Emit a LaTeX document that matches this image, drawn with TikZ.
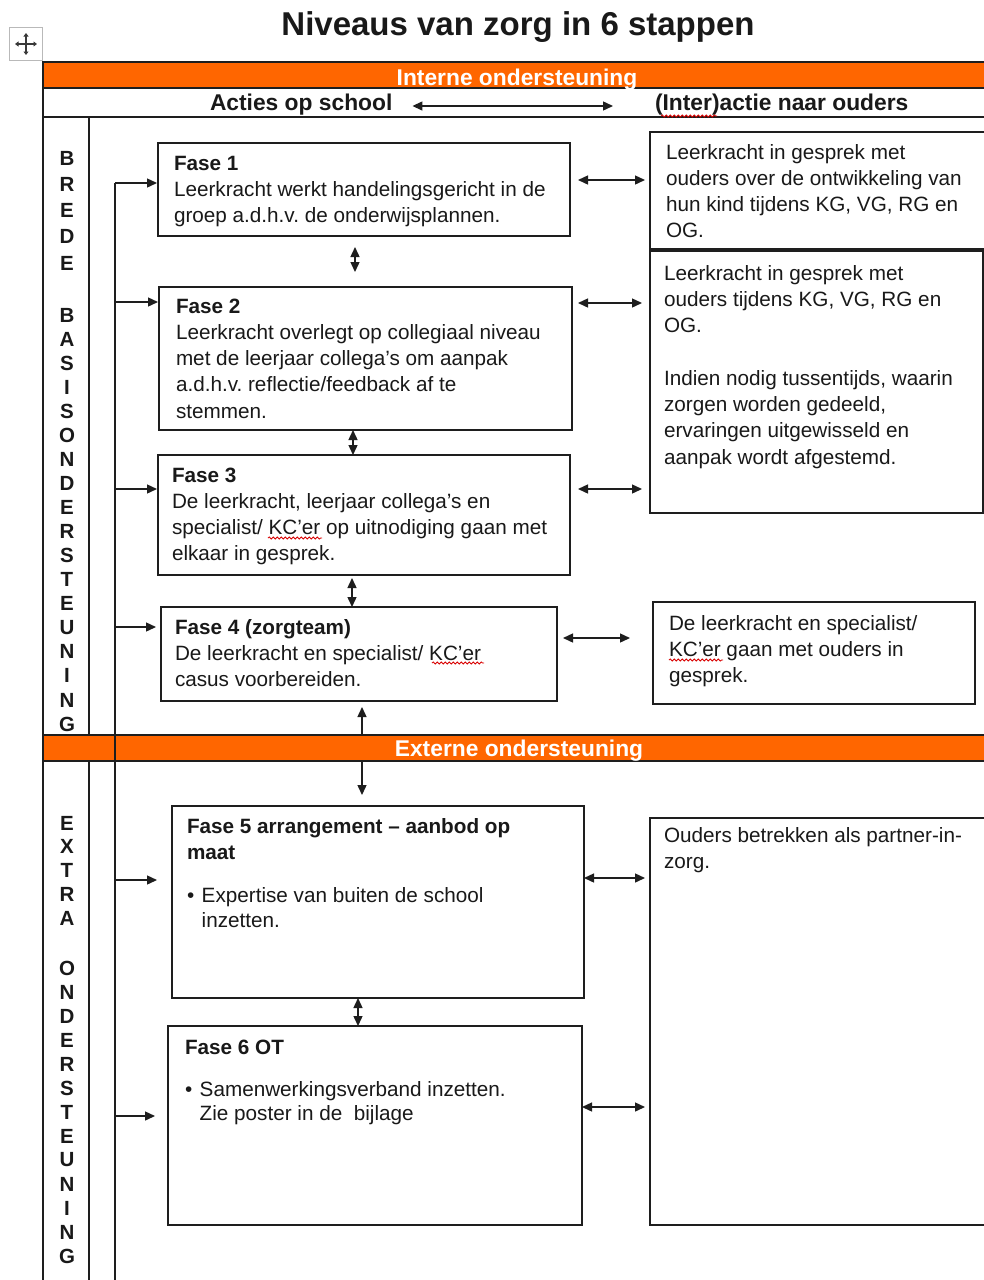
\documentclass[tikz,border=0pt]{standalone}
\usepackage{fontspec}
\setmainfont{Liberation Sans}
\usetikzlibrary{arrows.meta,calc,decorations.pathmorphing}
\definecolor{orng}{RGB}{255,102,0}
\definecolor{ln}{RGB}{30,30,30}
\definecolor{tx}{RGB}{25,25,25}
\frenchspacing
\tikzset{
  x=1pt,y=-1pt,
  fbox/.style={draw=ln,line width=1.4pt,inner sep=0pt,outer sep=0pt,anchor=north west},
  txt/.style={inner sep=0pt,outer sep=0pt,align=left,anchor=north west,text=tx,
    font=\fontsize{20.7}{26.3}\selectfont},
  hdr/.style={inner sep=0pt,outer sep=0pt,anchor=base west,text=tx,
    font=\fontsize{22.8}{26}\selectfont\bfseries},
  bandbox/.style={draw=ln,line width=1.6pt,fill=orng,inner sep=0pt,outer sep=0pt,anchor=north west},
  bandtxt/.style={inner sep=0pt,outer sep=0pt,anchor=base,text=white,
    font=\fontsize{22.8}{26}\selectfont\bfseries},
  lt/.style={inner sep=0pt,outer sep=0pt,anchor=center,text=tx,
    font=\fontsize{20.5}{24}\selectfont\bfseries},
  tline/.style={draw=ln,line width=1.8pt},
  bus/.style={draw=ln,line width=1.3pt},
  arr/.style={draw=ln,line width=1.4pt,-{Triangle[length=10pt,width=9pt]}},
  darr/.style={draw=ln,line width=1.4pt,{Triangle[length=10pt,width=9pt]}-{Triangle[length=10pt,width=9pt]}},
  sq/.style={draw=red!85!black,line width=0.8pt,decorate,
    decoration={snake,amplitude=1.1pt,segment length=4pt}},
}
\newcommand\bul{\makebox[14.7pt][l]{•}}
\begin{document}
\begin{tikzpicture}
\clip (0,0) rectangle (984,1280);
\fill[white] (0,0) rectangle (984,1280);

% title
\node[inner sep=0pt,anchor=base,text=tx,font=\fontsize{33}{36}\selectfont\bfseries] (title) at (518,35) {Niveaus van zorg in 6 stappen};

% move icon
\node[draw=gray!55,fill=white,line width=1.5pt,minimum size=33pt,inner sep=0pt] (mv) at (26,44) {};
\draw[gray!45!black,line width=1.2pt,{Triangle[length=3.5pt,width=5pt]}-{Triangle[length=3.5pt,width=5pt]}]
  ($(mv.center)+(-11,0)$) -- ($(mv.center)+(11,0)$);
\draw[gray!45!black,line width=1.2pt,{Triangle[length=3.5pt,width=5pt]}-{Triangle[length=3.5pt,width=5pt]}]
  ($(mv.center)+(0,-11)$) -- ($(mv.center)+(0,11)$);

% bands
\node[bandbox,minimum width=960pt,minimum height=26pt] (band1) at (43,62) {};
\node[bandtxt] (band1t) at (517,85) {Interne ondersteuning};
\node[bandbox,minimum width=960pt,minimum height=26pt] (band2) at (43,735) {};
\node[bandtxt] (band2t) at (519,756) {Externe ondersteuning};

% table lines
\draw[tline] (43,62) -- (43,1290);
\draw[tline] (43,117) -- (1000,117);
\draw[tline] (89,117) -- (89,735);
\draw[tline] (89,761) -- (89,1290);

% header row
\node[hdr] (ha) at (210,110) {Acties op school};
\node[hdr] (hb) at (655,110) {(Inter)actie naar ouders};
\coordinate (yh) at (0,106);
\draw[darr,shorten <=20pt,shorten >=42pt] (ha.east |- yh) -- (hb.west |- yh);
\draw[sq] (661,116) -- (717,116);

% left column letters
\foreach \ch [count=\i from 0] in {B,R,E,D,E}
  \node[lt] (lbr\i) at (67,{158+26.25*\i}) {\ch};
\foreach \ch [count=\i from 0] in {B,A,S,I,S,O,N,D,E,R,S,T,E,U,N,I,N,G}
  \node[lt] (lba\i) at (67,{315+24.06*\i}) {\ch};
\foreach \ch [count=\i from 0] in {E,X,T,R,A}
  \node[lt] (lex\i) at (67,{823+23.75*\i}) {\ch};
\foreach \ch [count=\i from 0] in {O,N,D,E,R,S,T,E,U,N,I,N,G}
  \node[lt] (lon\i) at (67,{968+24*\i}) {\ch};

% phase boxes
\node[fbox,minimum width=412pt,minimum height=93pt] (f1) at (158,143) {};
\node[fbox,minimum width=413pt,minimum height=143pt] (f2) at (159,287) {};
\node[fbox,minimum width=412pt,minimum height=120pt] (f3) at (158,455) {};
\node[fbox,minimum width=396pt,minimum height=94pt] (f4) at (161,607) {};
\node[fbox,minimum width=412pt,minimum height=192pt] (f5) at (172,806) {};
\node[fbox,minimum width=414pt,minimum height=199pt] (f6) at (168,1026) {};

% parent boxes
\node[fbox,minimum width=345pt,minimum height=117pt] (r1) at (650,132) {};
\node[fbox,minimum width=333pt,minimum height=262pt] (r2) at (650,251) {};
\node[fbox,minimum width=322pt,minimum height=102pt] (r4) at (653,602) {};
\node[fbox,minimum width=345pt,minimum height=407pt] (r5) at (650,818) {};

% texts
\node[txt] (t1) at (174,{170-19}) {\rule{0pt}{19pt}\textbf{Fase 1}\\Leerkracht werkt handelingsgericht in de\\groep a.d.h.v. de onderwijsplannen.};
\node[txt] (t2) at (176,{313-19}) {\rule{0pt}{19pt}\textbf{Fase 2}\\Leerkracht overlegt op collegiaal niveau\\met de leerjaar collega’s om aanpak\\a.d.h.v. reflectie/feedback af te\\stemmen.};
\node[txt] (t3) at (172,{482-19}) {\rule{0pt}{19pt}\textbf{Fase 3}\\De leerkracht, leerjaar collega’s en\\specialist/ KC’er op uitnodiging gaan met\\elkaar in gesprek.};
\node[txt] (t4) at (175,{634-19}) {\rule{0pt}{19pt}\textbf{Fase 4 (zorgteam)}\\De leerkracht en specialist/ KC’er\\casus voorbereiden.};
\node[txt] (t5) at (187,{833-19}) {\rule{0pt}{19pt}\textbf{Fase 5 arrangement – aanbod op}\\\textbf{maat}\\[17pt]\bul Expertise van buiten de school\\[-1pt]\hspace*{14.7pt}inzetten.};
\node[txt] (t6) at (185,{1054-19}) {\rule{0pt}{19pt}\textbf{Fase 6 OT}\\[16pt]\bul Samenwerkingsverband inzetten.\\[-2pt]\hspace*{14.7pt}Zie poster in de\ \ bijlage};
\node[txt] (tr1) at (666,{159-19}) {\rule{0pt}{19pt}Leerkracht in gesprek met\\ouders over de ontwikkeling van\\hun kind tijdens KG, VG, RG en\\OG.};
\node[txt] (tr2) at (664,{280-19}) {\rule{0pt}{19pt}Leerkracht in gesprek met\\ouders tijdens KG, VG, RG en\\OG.\\[26.3pt]Indien nodig tussentijds, waarin\\zorgen worden gedeeld,\\ervaringen uitgewisseld en\\aanpak wordt afgestemd.};
\node[txt] (tr4) at (669,{630-19}) {\rule{0pt}{19pt}De leerkracht en specialist/\\KC’er gaan met ouders in\\gesprek.};
\node[txt] (tr5) at (664,{842-19}) {\rule{0pt}{19pt}Ouders betrekken als partner-in-\\zorg.};

% spelling marks
\draw[sq] (268,538) -- (322,538);
\draw[sq] (432,663) -- (484,663);
\draw[sq] (669,660) -- (723,660);

% bus line and feed arrows
\coordinate (bt) at (115,183);
\coordinate (bb) at (115,1290);
\draw[bus] (bt) -- (bb);
\coordinate (y1) at (0,183);
\coordinate (y2) at (0,302);
\coordinate (y3) at (0,489);
\coordinate (y4) at (0,627);
\coordinate (y5) at (0,880);
\coordinate (y6) at (0,1116);
\draw[arr,shorten >=1pt] (bt |- y1) -- (f1.west |- y1);
\draw[arr,shorten >=1pt] (bt |- y2) -- (f2.west |- y2);
\draw[arr,shorten >=1pt] (bt |- y3) -- (f3.west |- y3);
\draw[arr,shorten >=5pt] (bt |- y4) -- (f4.west |- y4);
\draw[arr,shorten >=15pt] (bt |- y5) -- (f5.west |- y5);
\draw[arr,shorten >=13pt] (bt |- y6) -- (f6.west |- y6);

% horizontal double arrows to parents
\coordinate (h1) at (0,180);
\coordinate (h2) at (0,303);
\coordinate (h3) at (0,489);
\coordinate (h4) at (0,638);
\coordinate (h5) at (0,878);
\coordinate (h6) at (0,1107);
\draw[darr,shorten <=8pt,shorten >=5pt] (f1.east |- h1) -- (r1.west |- h1);
\draw[darr,shorten <=6pt,shorten >=8pt] (f2.east |- h2) -- (r2.west |- h2);
\draw[darr,shorten <=8pt,shorten >=8pt] (f3.east |- h3) -- (r2.west |- h3);
\draw[darr,shorten <=6pt,shorten >=23pt] (f4.east |- h4) -- (r4.west |- h4);
\draw[darr,shorten >=5pt] (f5.east |- h5) -- (r5.west |- h5);
\draw[darr,shorten >=5pt] (f6.east |- h6) -- (r5.west |- h6);

% vertical arrows
\coordinate (v1) at (355,0);
\coordinate (v2) at (353,0);
\coordinate (v3) at (352,0);
\coordinate (v4) at (362,0);
\coordinate (v5) at (358,0);
\draw[darr,shorten <=11pt,shorten >=15pt] (f1.south -| v1) -- (f2.north -| v1);
\draw[darr] (f2.south -| v2) -- (f3.north -| v2);
\draw[darr,shorten <=3pt] (f3.south -| v3) -- (f4.north -| v3);
\draw[arr,shorten >=6pt] (band2.north -| v4) -- (f4.south -| v4);
\draw[arr,shorten >=11pt] (band2.south -| v4) -- (f5.north -| v4);
\draw[darr] (f5.south -| v5) -- (f6.north -| v5);
\end{tikzpicture}
\end{document}
